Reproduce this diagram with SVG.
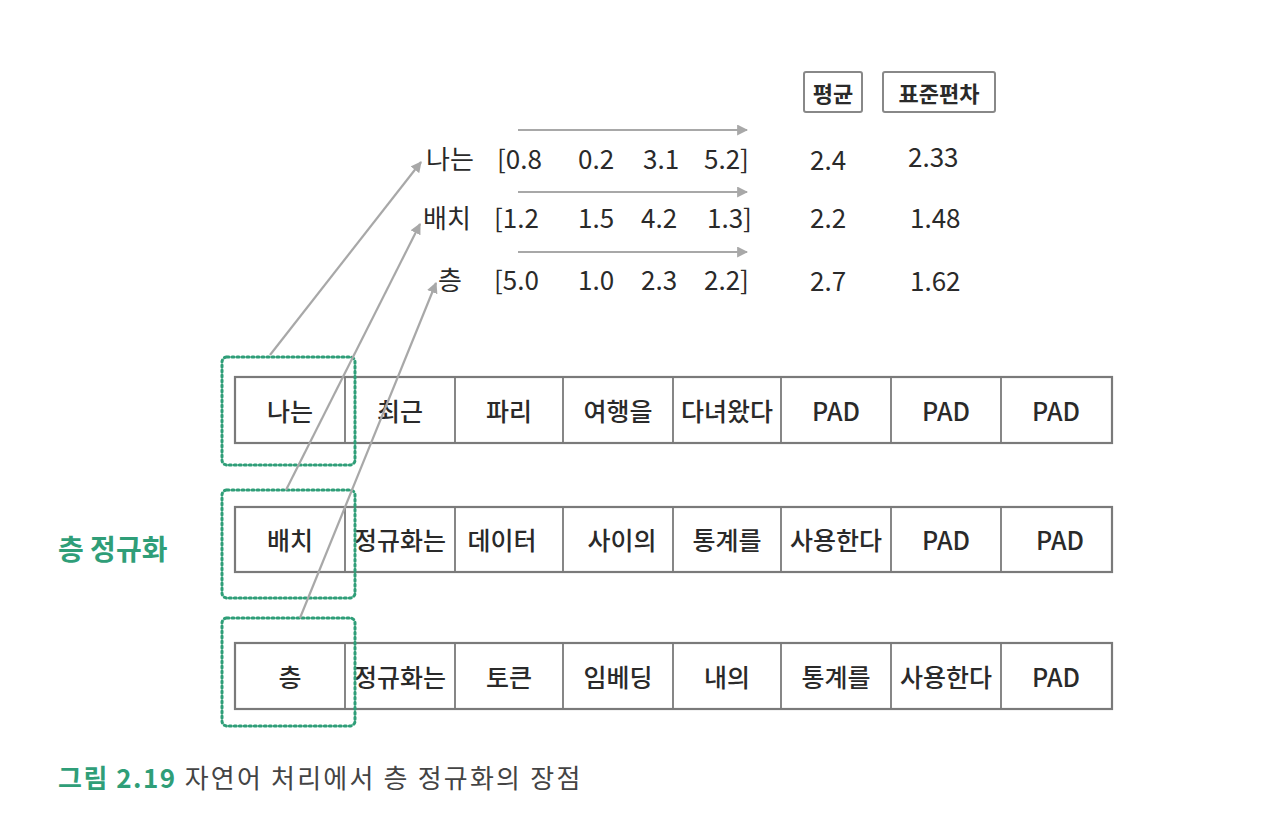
<svg xmlns="http://www.w3.org/2000/svg" width="1262" height="840" viewBox="0 0 1262 840">
<style>
.t{font-family:"Noto Sans CJK KR","Noto Sans",sans-serif;fill:#2a2a2a;}
.cell{font-size:25px;font-weight:500;text-anchor:middle;dominant-baseline:central;}
.num{font-size:26px;dominant-baseline:central;}
.row{fill:#fff;stroke:#7a7a7a;stroke-width:2.2;}
.div{stroke:#7a7a7a;stroke-width:1.8;}
.dot{fill:none;stroke:#2f9e78;stroke-width:3;stroke-dasharray:2 3;stroke-linecap:round;}
.arr{stroke:#a8a8a8;stroke-width:2.2;fill:none;marker-end:url(#ah);}
.hdr{fill:#fff;stroke:#888;stroke-width:2;}
</style>
<defs>
<marker id="ah" viewBox="0 0 10 10" refX="9" refY="5" markerWidth="5" markerHeight="5" orient="auto" markerUnits="strokeWidth">
<path d="M0,0 L10,5 L0,10 z" fill="#a8a8a8"/>
</marker>
</defs>
<rect width="1262" height="840" fill="#fff"/>

<g id="headers">
<rect class="hdr" x="804" y="72" width="58" height="40" rx="2"/>
<text class="t" x="833" y="92" font-size="22" font-weight="600" text-anchor="middle" dominant-baseline="central">평균</text>
<rect class="hdr" x="883" y="72" width="112" height="40" rx="2"/>
<text class="t" x="939" y="92" font-size="22" font-weight="600" text-anchor="middle" dominant-baseline="central">표준편차</text>
</g>

<g id="vectors">
<text class="t num" x="426" y="157" font-size="29">나는</text>
<text class="t num" x="497" y="157">[0.8</text>
<text class="t num" x="578" y="157">0.2</text>
<text class="t num" x="643" y="157">3.1</text>
<text class="t num" x="704" y="157">5.2]</text>
<text class="t num" x="810" y="158" font-size="28">2.4</text>
<text class="t num" x="908" y="155" font-size="28">2.33</text>

<text class="t num" x="423" y="216" font-size="29">배치</text>
<text class="t num" x="494" y="216">[1.2</text>
<text class="t num" x="578" y="216">1.5</text>
<text class="t num" x="641" y="216">4.2</text>
<text class="t num" x="707" y="216">1.3]</text>
<text class="t num" x="810" y="216" font-size="28">2.2</text>
<text class="t num" x="910" y="216" font-size="28">1.48</text>

<text class="t num" x="438" y="278" font-size="29">층</text>
<text class="t num" x="494" y="278">[5.0</text>
<text class="t num" x="578" y="278">1.0</text>
<text class="t num" x="641" y="278">2.3</text>
<text class="t num" x="704" y="278">2.2]</text>
<text class="t num" x="810" y="279" font-size="28">2.7</text>
<text class="t num" x="910" y="279" font-size="28">1.62</text>
</g>

<g id="row1">
<rect class="row" x="235" y="377" width="877" height="66"/>
<path class="div" d="M345,377V443M455,377V443M563,377V443M673,377V443M781,377V443M891,377V443M1001,377V443"/>
<text class="t cell" x="290" y="410">나는</text>
<text class="t cell" x="400" y="410">최근</text>
<text class="t cell" x="509" y="410">파리</text>
<text class="t cell" x="618" y="410">여행을</text>
<text class="t cell" x="727" y="410" font-size="23">다녀왔다</text>
<text class="t cell" x="836" y="410">PAD</text>
<text class="t cell" x="946" y="410">PAD</text>
<text class="t cell" x="1056" y="410">PAD</text>
</g>

<g id="row2">
<rect class="row" x="235" y="507" width="877" height="65"/>
<path class="div" d="M345,507V572M455,507V572M563,507V572M673,507V572M781,507V572M891,507V572M1001,507V572"/>
<text class="t cell" x="290" y="539">배치</text>
<text class="t cell" x="400" y="539" font-size="23">정규화는</text>
<text class="t cell" x="502" y="539">데이터</text>
<text class="t cell" x="622" y="539">사이의</text>
<text class="t cell" x="727" y="539">통계를</text>
<text class="t cell" x="836" y="539" font-size="23">사용한다</text>
<text class="t cell" x="946" y="539">PAD</text>
<text class="t cell" x="1060" y="539">PAD</text>
</g>

<g id="row3">
<rect class="row" x="235" y="643" width="877" height="66"/>
<path class="div" d="M345,643V709M455,643V709M563,643V709M673,643V709M781,643V709M891,643V709M1001,643V709"/>
<text class="t cell" x="290" y="676">층</text>
<text class="t cell" x="400" y="676" font-size="23">정규화는</text>
<text class="t cell" x="509" y="676">토큰</text>
<text class="t cell" x="618" y="676">임베딩</text>
<text class="t cell" x="727" y="676">내의</text>
<text class="t cell" x="836" y="676">통계를</text>
<text class="t cell" x="946" y="676" font-size="23">사용한다</text>
<text class="t cell" x="1056" y="676">PAD</text>
</g>

<g id="highlights">
<rect class="dot" x="222" y="357" width="133" height="108" rx="5"/>
<rect class="dot" x="222" y="490" width="133" height="108" rx="5"/>
<rect class="dot" x="222" y="618" width="133" height="108" rx="5"/>
</g>

<g id="connectors">
<line class="arr" x1="518" y1="130" x2="747" y2="130"/>
<line class="arr" x1="518" y1="192" x2="747" y2="192"/>
<line class="arr" x1="518" y1="252" x2="747" y2="252"/>
<line class="arr" x1="270" y1="355" x2="421" y2="162"/>
<line class="arr" x1="286" y1="490" x2="420" y2="224"/>
<line class="arr" x1="300" y1="618" x2="436" y2="283"/>
</g>

<g id="side-label">
<text x="58" y="548" font-family="Noto Sans CJK KR, sans-serif" font-size="28" font-weight="700" fill="#2f9e78" dominant-baseline="central">층 정규화</text>
</g>

<g id="caption">
<text x="58" y="776" font-family="Noto Sans CJK KR, sans-serif" font-size="26" dominant-baseline="central"><tspan font-weight="700" fill="#2f9e78" letter-spacing="1.5">그림 2.19</tspan><tspan fill="#444" dx="8" letter-spacing="2.2">자연어 처리에서 층 정규화의 장점</tspan></text>
</g>
</svg>
